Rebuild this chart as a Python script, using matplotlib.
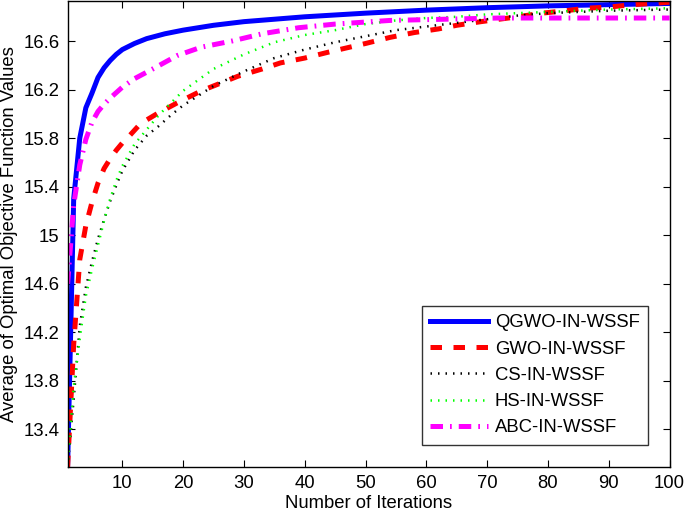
import matplotlib
matplotlib.use("Agg")
import matplotlib.pyplot as plt

plt.rcParams['font.family'] = ['Liberation Sans', 'DejaVu Sans']

# QGWO-IN-WSSF
x_qgwo = [1, 2, 3, 4, 5, 6, 7, 8, 9, 10, 12, 14, 17, 20, 25, 30, 35, 40, 45, 50, 60, 70, 80, 90, 100]
y_qgwo = [13.09, 15.3, 15.8, 16.05, 16.17, 16.3, 16.38, 16.44, 16.49, 16.53, 16.58, 16.62, 16.66, 16.69,
          16.73, 16.76, 16.78, 16.8, 16.815, 16.83, 16.855, 16.875, 16.89, 16.90, 16.91]

# GWO-IN-WSSF
x_gwo = [1, 2, 3, 4, 5, 6, 7, 8, 9, 10, 11, 13, 16, 19, 23, 29, 33, 36, 40, 44, 47, 50, 54, 58, 62, 65,
         69, 75, 79, 83, 86, 90, 94, 97, 100]
y_gwo = [13.09, 14.1, 14.8, 15.08, 15.27, 15.43, 15.55, 15.63, 15.7, 15.76, 15.81, 15.92, 16.01, 16.09,
         16.19, 16.31, 16.37, 16.42, 16.46, 16.51, 16.545, 16.58, 16.63, 16.67, 16.7, 16.73, 16.76, 16.8,
         16.83, 16.85, 16.87, 16.88, 16.9, 16.91, 16.92]

# CS-IN-WSSF
x_cs = [1, 2, 3, 4, 5, 6, 7, 8, 9, 10, 12, 14, 16, 18, 20, 25, 30, 35, 40, 45, 50, 55, 60, 65, 70, 75,
        80, 90, 100]
y_cs = [13.09, 13.65, 14.25, 14.57, 14.78, 14.97, 15.13, 15.28, 15.41, 15.53, 15.7, 15.82, 15.9, 15.99,
        16.07, 16.23, 16.35, 16.46, 16.53, 16.59, 16.64, 16.69, 16.72, 16.75, 16.78, 16.81, 16.83, 16.85,
        16.86]

# HS-IN-WSSF
x_hs = [1, 2, 3, 4, 5, 6, 7, 8, 9, 10, 12, 14, 16, 18, 20, 25, 30, 35, 40, 45, 50, 55, 60, 65, 70, 80,
        90, 100]
y_hs = [13.09, 13.75, 14.15, 14.5, 14.72, 14.92, 15.12, 15.3, 15.45, 15.57, 15.75, 15.87, 15.99, 16.09,
        16.19, 16.37, 16.49, 16.59, 16.65, 16.69, 16.74, 16.77, 16.79, 16.8, 16.82, 16.84, 16.86, 16.87]

# ABC-IN-WSSF
x_abc = [1, 2, 3, 4, 5, 6, 7, 8, 10, 12, 15, 19, 23, 28, 33, 39, 45, 54, 63, 72, 80, 90, 100]
y_abc = [14.6, 15.25, 15.58, 15.79, 15.93, 16.02, 16.08, 16.13, 16.22, 16.29, 16.37, 16.48, 16.55, 16.6,
         16.66, 16.71, 16.74, 16.77, 16.78, 16.79, 16.79, 16.79, 16.79]

labels = ['QGWO-IN-WSSF', 'GWO-IN-WSSF', 'CS-IN-WSSF', 'HS-IN-WSSF', 'ABC-IN-WSSF']
x_ticks = [10, 20, 30, 40, 50, 60, 70, 80, 90, 100]
y_ticks = [13.4, 13.8, 14.2, 14.6, 15.0, 15.4, 15.8, 16.2, 16.6]
y_ticklabels = ['13.4', '13.8', '14.2', '14.6', '15', '15.4', '15.8', '16.2', '16.6']

fig = plt.figure(figsize=(6.85, 5.12), dpi=100)
ax = fig.add_axes([0.0987, 0.0879, 0.8787, 0.9101])

ax.plot(x_qgwo, y_qgwo, color='#0000ff', lw=3.6, ls='-', label=labels[0])
ax.plot(x_gwo, y_gwo, color='#ff0000', lw=3.6, ls=(0, (2.3, 2.3)), label=labels[1])
ax.plot(x_cs, y_cs, color='black', lw=1.8, ls=(0, (0.6, 2.4)), label=labels[2])
ax.plot(x_hs, y_hs, color='#00ff00', lw=1.8, ls=(0, (0.6, 2.4)), label=labels[3])
ax.plot(x_abc, y_abc, color='#ff00ff', lw=3.6, ls=(0, (2.5, 1.4, 0.35, 1.4)), label=labels[4])

ax.set_xlim(1, 100)
ax.set_ylim(13.09, 16.93)
ax.set_xticks(x_ticks)
ax.set_yticks(y_ticks)
ax.set_yticklabels(y_ticklabels)
ax.tick_params(direction='in', top=True, right=True, labelsize=13.3, length=5, width=0.8, pad=6)
for s in ax.spines.values():
    s.set_linewidth(1.0)

ax.set_xlabel('Number of Iterations', fontsize=13.3, labelpad=2)
ax.set_ylabel('Average of Optimal Objective Function Values', fontsize=13.3, labelpad=4)

leg = ax.legend(loc='upper left', bbox_to_anchor=(0.616, 0.4023), bbox_transform=fig.transFigure,
                borderaxespad=0, fontsize=13.3, frameon=True, fancybox=False, handlelength=3.1,
                labelspacing=0.5, borderpad=0.45, handletextpad=0.4)
leg.get_frame().set_edgecolor('black')
leg.get_frame().set_linewidth(1.0)

fig.savefig('out.png', dpi=100)
